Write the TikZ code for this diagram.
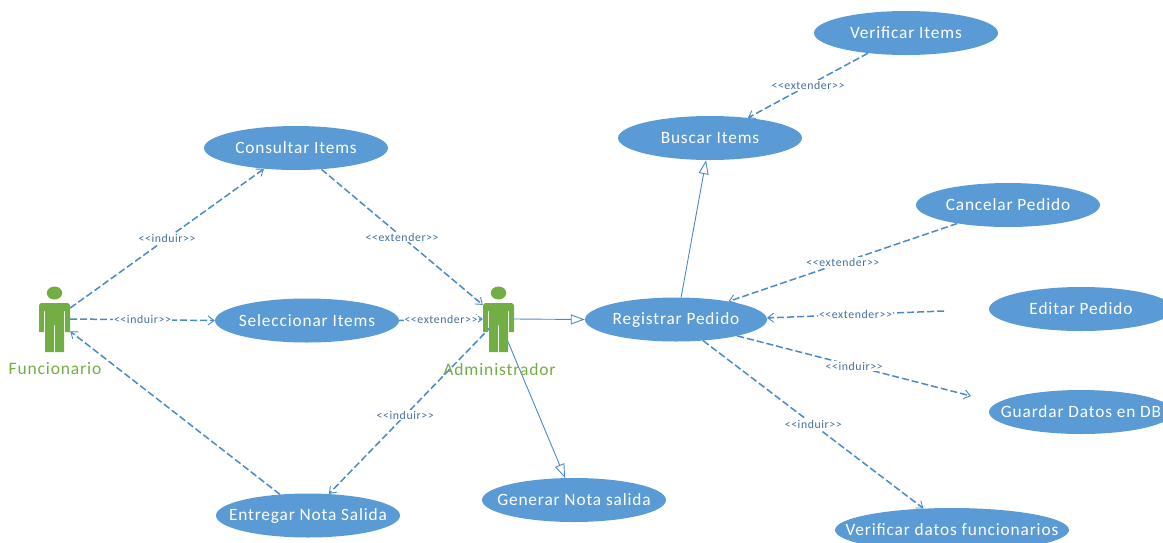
\documentclass[tikz,border=0pt]{standalone}
\usepackage{fontspec}
\setmainfont[LetterSpace=5]{Carlito}
\usetikzlibrary{arrows.meta,shapes.geometric}
\definecolor{ucfill}{HTML}{5B9BD5}
\definecolor{ucline}{HTML}{4A8AC8}
\definecolor{uclabel}{HTML}{44709E}
\definecolor{actgreen}{HTML}{72AE44}
\newcommand{\uctext}[1]{\makebox[0pt][c]{\raisebox{-2.2pt}{#1}}}
\newcommand{\stereo}[1]{\raisebox{-1pt}{<{}<#1>{}>}}
\tikzset{
  usecase/.style={ellipse,fill=ucfill,text=white,inner sep=0pt,minimum width=184pt,minimum height=44pt,font=\fontsize{17.3}{20}\selectfont},
  actorbox/.style={rectangle,inner sep=0pt,minimum width=31pt,minimum height=66pt},
  actorname/.style={text=actgreen,inner sep=0pt,font=\fontsize{17.5}{20}\selectfont},
  dep/.style={draw=ucline,line width=1.5pt,dash pattern=on 7pt off 3pt,-{Straight Barb[length=6pt,width=9pt,line width=0.9pt]}},
  gen/.style={draw=ucline,line width=0.9pt,-{Triangle[open,fill=white,length=14pt,width=10pt]}},
  lab/.style={fill=white,text=uclabel,inner sep=1pt,font=\fontsize{11.8}{13}\selectfont},
  actorfig/.pic={
    \fill[actgreen] (15.5,293) ellipse (7.7pt and 6.5pt);
    \fill[actgreen] (2,303) -- (29,303) -- (31,305) -- (31,332) -- (26,332) -- (26,311) -- (25,311) -- (25,352) -- (16,352) -- (16,325) -- (15,325) -- (15,352) -- (6,352) -- (6,311) -- (5,311) -- (5,332) -- (0,332) -- (0,305) -- cycle;
  }
}
\begin{document}
\begin{tikzpicture}[x=1pt,y=-1pt]
\useasboundingbox (0,0) rectangle (1163,542);
\clip (0,0) rectangle (1163,542);
\node[usecase] (cons) at (296,148) {\uctext{Consultar Items}};
\node[usecase] (sel) at (307,320.5) {\uctext{Seleccionar Items}};
\node[usecase] (ent) at (308,515.5) {\uctext{Entregar Nota Salida}};
\node[usecase] (gnota) at (574,500) {\uctext{Generar Nota salida}};
\node[usecase,minimum width=182pt] (reg) at (676,319.5) {\uctext{Registrar Pedido}};
\node[usecase] (bus) at (710,138) {\uctext{Buscar Items}};
\node[usecase] (veri) at (906,33) {\uctext{Verificar Items}};
\node[usecase] (can) at (1008,205) {\uctext{Cancelar Pedido}};
\node[usecase] (edi) at (1081,309) {\uctext{Editar Pedido}};
\node[usecase] (gua) at (1081,412) {\uctext{Guardar Datos en DB}};
\node[usecase,minimum width=234pt] (vdat) at (952,530) {\uctext{Verificar datos funcionarios}};
\node[actorbox] (func) at (54.5,319) {};
\node[actorbox] (adm) at (498.5,319) {};
\coordinate (ediend) at (944,311);
\coordinate (guaend) at (971,396);
% connectors
\draw[dep] (func.35) -- node[lab] {\stereo{induir}} (cons.213);
\draw[dep] (cons.320) -- node[lab] {\stereo{extender}} (adm.138);
\draw[dep] (func.east) -- node[lab] {\stereo{induir}} (sel.west);
\draw[dep] (sel.east) -- node[lab] {\stereo{extender}} (adm.west);
\draw[dep] (ent.143) -- (func.322);
\draw[dep] (adm.center) -- node[lab,pos=0.55] {\stereo{induir}} (ent.46);
\draw[gen] (adm.east) -- (reg.west);
\draw[gen] (adm.center) -- (gnota.112);
\draw[gen] (reg.77) -- (bus.260);
\draw[dep] (veri.208) -- node[lab] {\stereo{extender}} (bus.28);
\draw[dep] (can.200) -- node[lab] {\stereo{extender}} (reg.19);
\draw[dep] (ediend) -- node[lab] {\stereo{extender}} (reg.1);
\draw[dep] (reg.-15) -- node[lab] {\stereo{induir}} (guaend);
\draw[dep] (reg.-38) -- node[lab] {\stereo{induir}} (vdat.143);
% actors
\pic at (39,0) {actorfig};
\pic at (483,0) {actorfig};
\node[actorname] (fname) at (55,369) {Funcionario};
\node[actorname] (aname) at (499.5,369) {Administrador};
\end{tikzpicture}
\end{document}
